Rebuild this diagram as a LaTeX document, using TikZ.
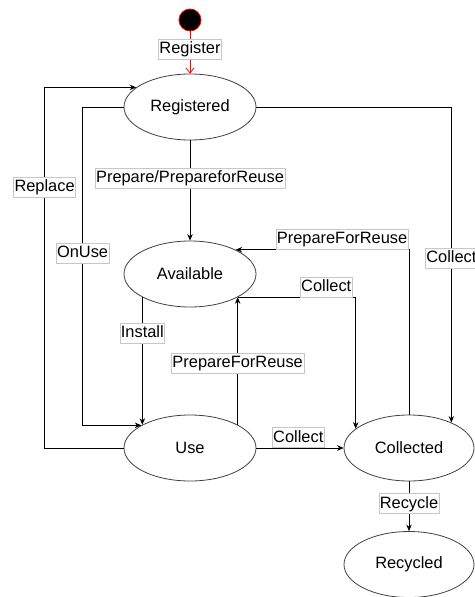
\documentclass[tikz,border=0pt]{standalone}
\usepackage{fontspec}
\setmainfont{Liberation Sans}
\usetikzlibrary{shapes.geometric,arrows.meta}
\begin{document}
\begin{tikzpicture}[x=1pt,y=-1pt,
  txt/.style={font=\fontsize{16.4}{19}\selectfont},
  state/.style={ellipse,draw=black!75,line width=0.8pt,minimum width=132pt,minimum height=66pt,inner sep=0pt,txt},
  lab/.style={fill=white,draw=black!22,line width=0.6pt,inner xsep=1pt,inner ysep=2.3pt,text height=12pt,text depth=3.4pt,txt},
  arr/.style={draw=black,line width=0.8pt,-{Stealth[length=6.5pt,width=5.5pt]}},
]
\useasboundingbox (0,0) rectangle (474,597);
\node[circle,fill=black,draw=red,line width=0.8pt,minimum size=22pt,inner sep=0pt] (start) at (190,20) {};
\node[state] (reg) at (190,107) {Registered};
\node[state] (ava) at (190,274) {Available};
\node[state] (use) at (190,448) {Use};
\node[state,minimum width=130pt] (col) at (409,448) {Collected};
\node[state,minimum width=130pt] (rec) at (409,564.5) {Recycled};

\draw[draw=red,line width=0.8pt,-{Straight Barb[length=5pt,width=8pt]}] (start.south) -- node[lab,pos=0.43] (lreg) {Register} (reg.north);
\draw[arr] (reg.south) -- node[lab,pos=0.376] (lprep) {Prepare/PrepareforReuse} (ava.north);
\draw[arr] (use.west) -- ++(-79,0) |- node[lab,pos=0.362] (lrepl) {Replace} (reg.160);
\draw[arr] (reg.west) -- ++(-41,0) |- node[lab,pos=0.23] (lonuse) {OnUse} (use.155);
\draw[arr] (reg.east) -| node[lab,pos=0.74] (lcol1) {Collect} (col.31);
\draw[arr] (ava.206) -- node[lab,pos=0.28] (linst) {Install} (use.154);
\draw[arr] (use.26) -- node[lab,pos=0.48] (lpfr1) {PrepareForReuse} (ava.334);
\draw[arr] (ava.334) -| node[lab,pos=0.375,anchor=south] (lcol2) {Collect} (col.160);
\draw[arr] (col.north) |- node[lab,pos=0.693,anchor=south] (lpfr2) {PrepareForReuse} (ava.28);
\draw[arr] (use.east) -- node[lab,pos=0.48,anchor=south] (lcol3) {Collect} (col.west);
\draw[arr] (col.south) -- node[lab,pos=0.45] (lrec) {Recycle} (rec.north);
\end{tikzpicture}
\end{document}
